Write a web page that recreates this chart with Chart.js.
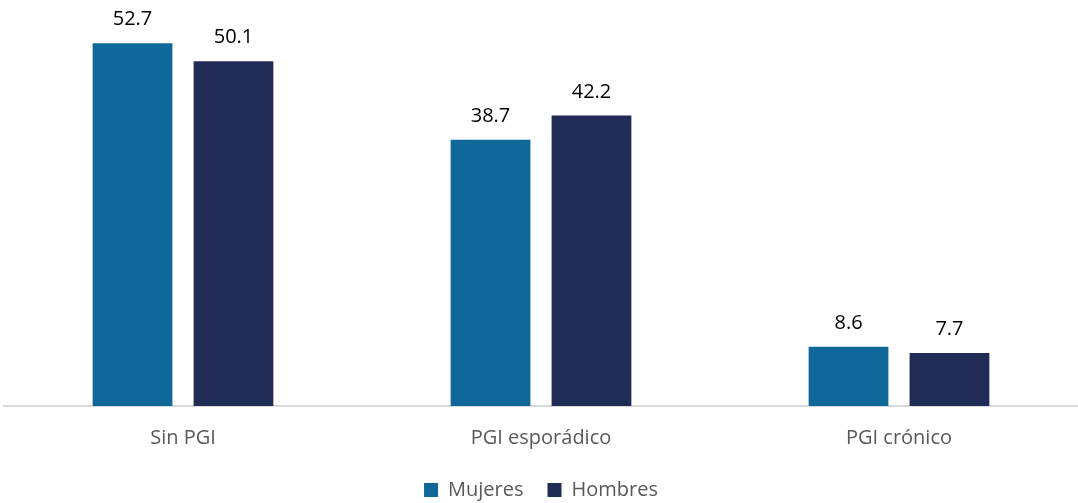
<!DOCTYPE html>
<html>
<head>
<meta charset="utf-8">
<script src="https://cdn.jsdelivr.net/npm/chart.js@4"></script>
<style>
  html, body { margin: 0; padding: 0; background: #fff; }
  #wrap { width: 1078px; height: 503px; }
</style>
</head>
<body>
<div id="wrap"><canvas id="chart"></canvas></div>
<script>
const categories = ["Sin PGI", "PGI esporádico", "PGI crónico"];
const mujeres = [52.7, 38.7, 8.6];
const hombres = [50.1, 42.2, 7.7];

// etiquetas de valor encima de cada barra
const valueLabels = {
  id: "valueLabels",
  afterDatasetsDraw(chart) {
    const ctx = chart.ctx;
    ctx.save();
    ctx.font = "20px 'Open Sans', sans-serif";
    ctx.fillStyle = "#000";
    ctx.textAlign = "center";
    ctx.textBaseline = "alphabetic";
    chart.data.datasets.forEach((ds, i) => {
      chart.getDatasetMeta(i).data.forEach((bar, j) => {
        ctx.fillText(ds.data[j].toFixed(1), bar.x, bar.y - 18);
      });
    });
    ctx.restore();
  }
};

new Chart(document.getElementById("chart"), {
  type: "bar",
  data: {
    labels: categories,
    datasets: [
      { label: "Mujeres", data: mujeres, backgroundColor: "#10679A" },
      { label: "Hombres", data: hombres, backgroundColor: "#212C56" }
    ]
  },
  options: {
    responsive: true,
    maintainAspectRatio: false,
    animation: false,
    categoryPercentage: 0.564,
    barPercentage: 0.79,
    layout: { padding: { left: 4, right: 0, top: 0, bottom: 1 } },
    plugins: {
      legend: {
        position: "bottom",
        maxHeight: 46,
        labels: {
          color: "#595959",
          font: { family: "'Open Sans', sans-serif", size: 20 },
          boxWidth: 14,
          boxHeight: 14,
          padding: 24
        }
      },
      tooltip: { enabled: false }
    },
    scales: {
      x: {
        grid: { display: false, drawTicks: false },
        border: { color: "#d9d9d9", width: 2 },
        ticks: {
          color: "#595959",
          padding: 20,
          font: { family: "'Open Sans', sans-serif", size: 20 }
        },
        afterFit: s => { s.height = 50; }
      },
      y: {
        display: false,
        min: 0,
        max: 59
      }
    }
  },
  plugins: [valueLabels]
});
</script>
</body>
</html>
